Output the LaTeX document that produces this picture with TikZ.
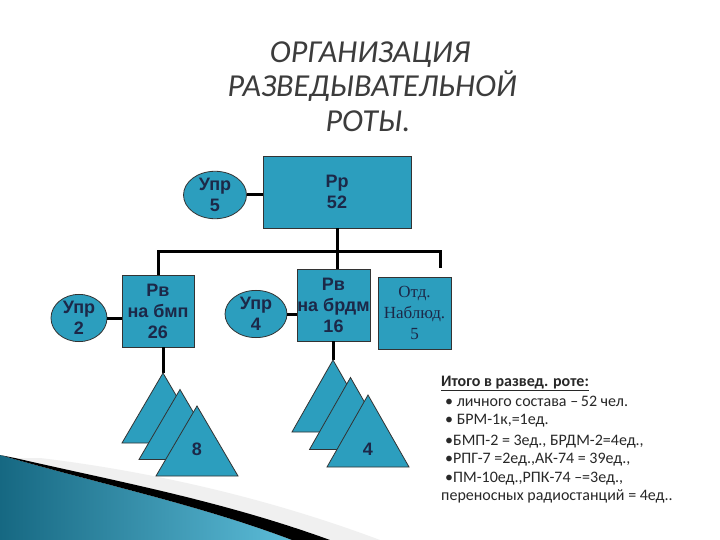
\documentclass[tikz,border=0pt]{standalone}
\usepackage{fontspec}
\usetikzlibrary{shapes.geometric}
\setmainfont{Carlito}
\newfontfamily\arialf{Liberation Sans}
\newfontfamily\timesf{Liberation Serif}
\definecolor{boxfill}{RGB}{44,158,190}
\definecolor{boxtext}{RGB}{28,40,72}
\definecolor{titlegray}{RGB}{60,60,60}
\definecolor{listgray}{RGB}{40,40,40}
\definecolor{decodark}{RGB}{22,104,130}
\definecolor{decolight}{RGB}{92,188,216}
\begin{document}
\begin{tikzpicture}[x=1pt,y=-1pt,
  unit/.style={draw=black!80, line width=0.8pt, fill=boxfill, text=boxtext,
    font=\arialf\bfseries\fontsize{18}{21}\selectfont, align=center, inner sep=0pt},
  boxnode/.style={unit, rectangle},
  ell/.style={unit, ellipse},
  link/.style={line width=3pt, black},
  tri/.style={fill=boxfill, draw=black!80, line width=0.8pt},
  titletext/.style={font=\itshape\fontsize{32}{34}\selectfont, text=titlegray, anchor=base, inner sep=0pt},
  listtext/.style={font=\fontsize{16}{19}\selectfont, text=listgray, anchor=base west, inner sep=0pt}
]
\useasboundingbox (0,0) rectangle (720,540);
\fill[white] (0,0) rectangle (720,540);

% bottom-left decoration
\fill[gray!12] (40,458) .. controls (140,470) and (260,495) .. (380,540) -- (330,540)
  .. controls (220,500) and (110,480) .. (15,458) -- cycle;
\shade[left color=decodark, right color=decolight]
  (0,455) .. controls (100,484) and (200,505) .. (292,540) -- (0,540) -- cycle;
\fill[black] (15,458) .. controls (110,480) and (220,500) .. (330,540) -- (292,540)
  .. controls (200,505) and (100,484) .. (0,455) -- cycle;

% title
\node[titletext] (t1) at (370,63) {ОРГАНИЗАЦИЯ};
\node[titletext] (t2) at (372,97) {РАЗВЕДЫВАТЕЛЬНОЙ};
\node[titletext] (t3) at (368,132) {РОТЫ.};

% boxes
\node[boxnode, minimum width=148pt, minimum height=72pt] (rr) at (337,192) {Рр\\52};
\node[ell, minimum width=63pt, minimum height=45pt] (u5) at (215,195) {Упр\\5};
\node[boxnode, minimum width=72pt, minimum height=72pt] (rvm) at (158,311) {Рв\\на бмп\\26};
\node[ell, minimum width=56pt, minimum height=43pt] (u2) at (79,318) {Упр\\2};
\node[boxnode, minimum width=73pt, minimum height=72pt] (rvb) at (333.5,305) {Рв\\на брдм\\16};
\node[ell, minimum width=62pt, minimum height=45pt] (u4) at (256,314) {Упр\\4};
\node[boxnode, minimum width=73pt, minimum height=72pt, font=\timesf\fontsize{17}{21}\selectfont] (otd) at (414.5,313) {Отд.\\Наблюд.\\5};

% connectors
\coordinate (bus) at (337,251);
\coordinate (otdend) at (440,268);
\draw[link] (u5.east) -- (u5.east -| rr.west);
\draw[link] (u2.east) -- (u2.east -| rvm.west);
\draw[link] (u4.east) -- (u4.east -| rvb.west);
\draw[link] (rr.south) -- (rr.south |- rvb.north);
\draw[link] (rvm.north) |- (bus) -| (otdend);

% triangles left
\coordinate (la) at (163,373);
\coordinate (lb) at (180,389.5);
\coordinate (lc) at (197,406);
\draw[link] (la |- rvm.south) -- (la);
\draw[tri] (la) -- ++(-41,70) -- ++(82,0) -- cycle;
\draw[tri] (lb) -- ++(-41,70) -- ++(82,0) -- cycle;
\draw[tri] (lc) -- ++(-41,70) -- ++(82,0) -- cycle;
\node[font=\arialf\bfseries\fontsize{18}{20}\selectfont, text=boxtext] (n8) at (197,449) {8};

% triangles right
\coordinate (ra) at (333,360);
\coordinate (rb) at (350.5,377.5);
\coordinate (rc) at (368,395);
\draw[link] (ra |- rvb.south) -- (ra);
\draw[tri] (ra) -- ++(-41,72) -- ++(82,0) -- cycle;
\draw[tri] (rb) -- ++(-41,72) -- ++(82,0) -- cycle;
\draw[tri] (rc) -- ++(-41,72) -- ++(82,0) -- cycle;
\node[font=\arialf\bfseries\fontsize{18}{20}\selectfont, text=boxtext] (n4) at (368,449) {4};

% summary text
\node[listtext, font=\bfseries\fontsize{16}{19}\selectfont] (l1) at (441,386) {\underline{Итого в развед. роте:}};
\node[listtext] (l2) at (445,406) {•\ личного состава –\,52 чел.};
\node[listtext] (l3) at (445,424) {•\ БРМ-1к,=1ед.};
\node[listtext] (l4) at (445,445) {•БМП-2 = 3ед., БРДМ-2=4ед.,};
\node[listtext] (l5) at (445,463) {•РПГ-7 =2ед.,АК-74 = 39ед.,};
\node[listtext] (l6) at (445,482) {•ПМ-10ед.,РПК-74 –=3ед.,};
\node[listtext] (l7) at (441,500) {переносных радиостанций = 4ед..};
\end{tikzpicture}
\end{document}
